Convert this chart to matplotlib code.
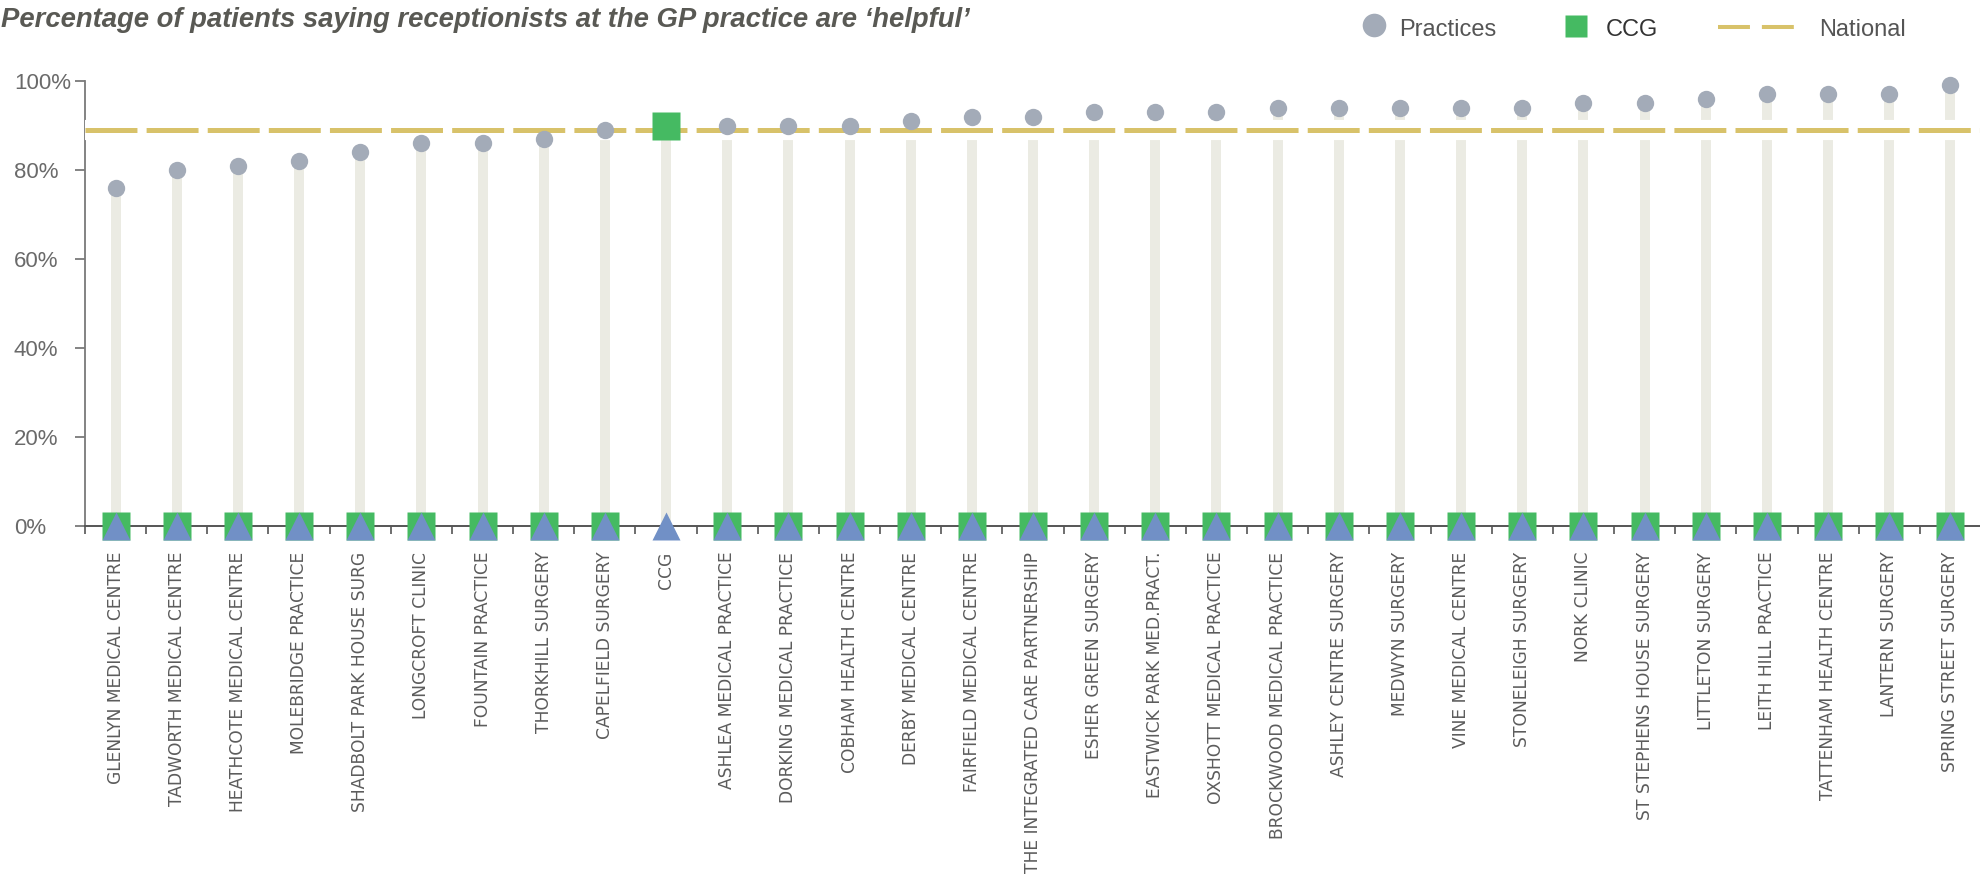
import numpy as np
import matplotlib
matplotlib.use('Agg')
from matplotlib import pyplot as plt
from matplotlib.lines import Line2D
from matplotlib.ticker import FuncFormatter, FixedLocator

# --- data ---
names = ['GLENLYN MEDICAL CENTRE', 'TADWORTH MEDICAL CENTRE', 'HEATHCOTE MEDICAL CENTRE',
         'MOLEBRIDGE PRACTICE', 'SHADBOLT PARK HOUSE SURG', 'LONGCROFT CLINIC',
         'FOUNTAIN PRACTICE', 'THORKHILL SURGERY', 'CAPELFIELD SURGERY', 'CCG',
         'ASHLEA MEDICAL PRACTICE', 'DORKING MEDICAL PRACTICE', 'COBHAM HEALTH CENTRE',
         'DERBY MEDICAL CENTRE', 'FAIRFIELD MEDICAL CENTRE', 'THE INTEGRATED CARE PARTNERSHIP',
         'ESHER GREEN SURGERY', 'EASTWICK PARK MED.PRACT.', 'OXSHOTT MEDICAL PRACTICE',
         'BROCKWOOD MEDICAL PRACTICE', 'ASHLEY CENTRE SURGERY', 'MEDWYN SURGERY',
         'VINE MEDICAL CENTRE', 'STONELEIGH SURGERY', 'NORK CLINIC', 'ST STEPHENS HOUSE SURGERY',
         'LITTLETON SURGERY', 'LEITH HILL PRACTICE', 'TATTENHAM HEALTH CENTRE',
         'LANTERN SURGERY', 'SPRING STREET SURGERY']
values = [76, 80, 81, 82, 84, 86, 86, 87, 89, 90,
          90, 90, 90, 91, 92, 92, 93, 93, 93, 94,
          94, 94, 94, 94, 95, 95, 96, 97, 97, 97, 99]
national = 89
base_vals = [0] * len(names)   # the CCG / triangle markers sitting on the 0% line

title = 'Percentage of patients saying receptionists at the GP practice are \u2018helpful\u2019'

# colours
c_stem = '#ebebe3'
c_dot = '#a3abb8'
c_ccg = '#45ba62'
c_tri = '#7190c6'
c_nat = '#d8c26a'

plt.rcParams['lines.scale_dashes'] = False

W, H = 1981, 876
fig = plt.figure(figsize=(W / 100, H / 100), dpi=100)
ax = fig.add_axes([85 / W, (H - 526) / H, (W - 85) / W, (526 - 81) / H])

x = np.arange(len(names))
vals = np.array(values, dtype=float)
is_ccg = np.array([n == 'CCG' for n in names])

# stems
ax.vlines(x, 0, vals, colors=c_stem, lw=7.2, zorder=1)

# national line with white band behind it
ax.axhline(national, color='white', lw=14.5, zorder=2.6, solid_capstyle='butt')
ax.axhline(national, color=c_nat, lw=3.6, ls=(0, (37.4, 6.6)), zorder=2.7)

# practices
ax.plot(x[~is_ccg], vals[~is_ccg], 'o', ms=12.5, color=c_dot, mec='none', zorder=4, clip_on=False)
# CCG value
ax.plot(x[is_ccg], vals[is_ccg], 's', ms=20, color=c_ccg, mec='none', zorder=4, clip_on=False)

# markers on the baseline
base = np.array(base_vals, dtype=float)
ax.plot(x[~is_ccg], base[~is_ccg], 's', ms=20, color=c_ccg, mec='none', zorder=5, clip_on=False)
ax.plot(x, base, '^', ms=20, color=c_tri, mec='none', zorder=6, clip_on=False)

ax.set_xlim(-0.5, len(names) - 0.5)
ax.set_ylim(0, 100)

# axes styling
for s in ['top', 'right']:
    ax.spines[s].set_visible(False)
ax.spines['left'].set_color('#7a7a7a')
ax.spines['left'].set_linewidth(1.3)
ax.spines['bottom'].set_color('#555555')
ax.spines['bottom'].set_linewidth(1.4)
ax.spines['left'].set_zorder(2.5)
ax.spines['bottom'].set_zorder(2.5)

ax.set_yticks([0, 20, 40, 60, 80, 100])
ax.yaxis.set_major_formatter(FuncFormatter(lambda v, p: '%d%%' % v))
ax.tick_params(axis='y', length=7.2, width=1.3, color='#7a7a7a', pad=44,
               labelsize=16, labelcolor='#6a6a6a')
for lab in ax.get_yticklabels():
    lab.set_horizontalalignment('left')
    lab.set_family('Liberation Sans')

ax.set_xticks(x)
ax.set_xticklabels(names, rotation=90, va='top', ha='center',
                   fontsize=12.3, color='#5c5c5c', family='DejaVu Sans')
ax.tick_params(axis='x', which='major', length=0, pad=18.5)
ax.xaxis.set_minor_locator(FixedLocator(np.arange(-0.5, len(names), 1.0)))
ax.tick_params(axis='x', which='minor', length=5.5, width=1.2, color='#555555')

# title
fig.text(1 / W, 1 - 27 / H, title, ha='left', va='baseline', fontsize=19.8,
         fontweight='bold', style='italic', color='#595954', family='Liberation Sans')

# legend drawn in figure space
def fx(px):
    return px / W

def fy(py):
    return 1 - py / H

fig.add_artist(Line2D([fx(1374)], [fy(25)], marker='o', ms=17, color=c_dot, mec='none',
                      transform=fig.transFigure))
fig.text(fx(1399), fy(36), 'Practices', fontsize=17, color='#555555', va='baseline',
         family='Liberation Sans')
fig.add_artist(Line2D([fx(1576)], [fy(26)], marker='s', ms=15.8, color=c_ccg, mec='none',
                      transform=fig.transFigure))
fig.text(fx(1606), fy(36), 'CCG', fontsize=17, color='#333333', va='baseline',
         family='Liberation Sans')
fig.add_artist(Line2D([fx(1718), fx(1794)], [fy(27), fy(27)], color=c_nat, lw=2.9,
                      ls=(0, (23, 8.6)), transform=fig.transFigure))
fig.text(fx(1819), fy(36), 'National', fontsize=17, color='#555555', va='baseline',
         family='Liberation Sans')

fig.savefig('out.png', dpi=100)
